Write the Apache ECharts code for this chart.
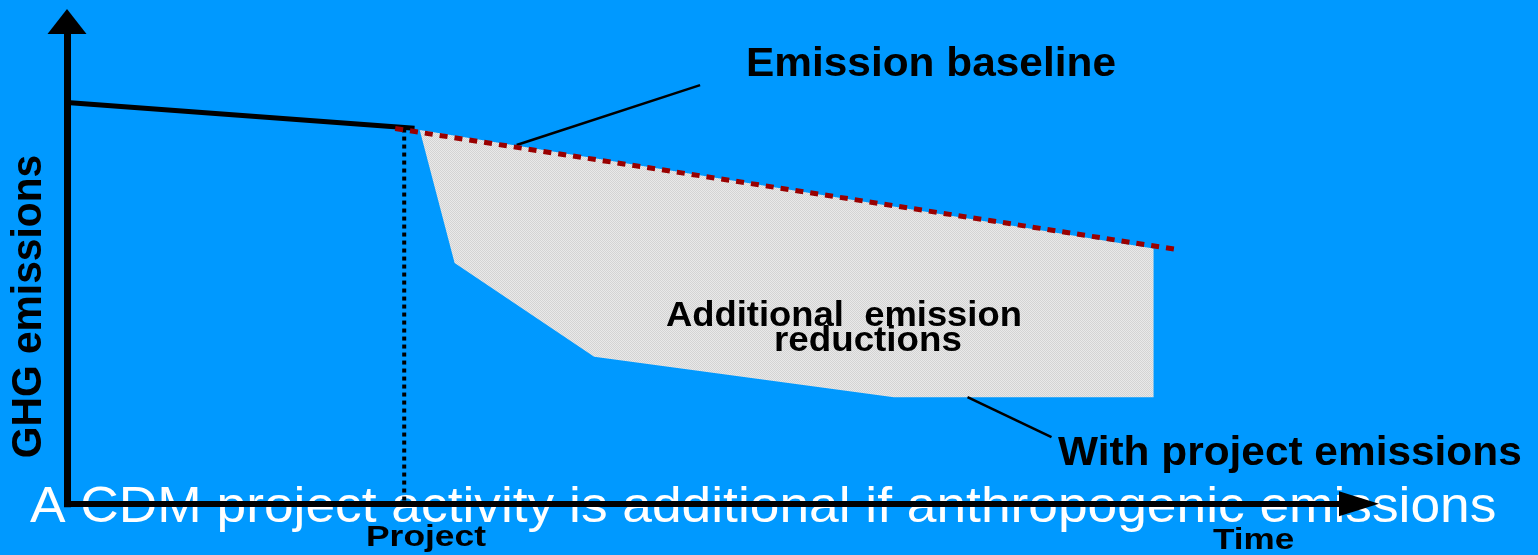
<!DOCTYPE html>
<html>
<head>
<meta charset="utf-8">
<script src="https://cdn.jsdelivr.net/npm/echarts@6/dist/echarts.min.js"></script>
<style>
html,body{margin:0;padding:0;background:#0099ff;}
#chart{width:1538px;height:555px;}
</style>
</head>
<body>
<div id="chart"></div>
<script>
// axis ranges (time / GHG emissions, arbitrary units)
var timeRange = [0, 100];
var emissionRange = [0, 100];

// emission baseline before project start (solid) and after (dashed)
var baselineBefore = [[0, 83.2], [26.9, 77.85]];
var baselineAfter = [[25.4, 77.8], [85.7, 52.8]];
// project start marker
var projectStart = [[26.1, 77.8], [26.1, 0]];
// area between baseline and with-project emissions
var reductionArea = [[27.3, 77.5], [30.0, 49.9], [40.8, 30.5], [64.0, 22.1], [84.1, 22.1], [84.1, 52.9]];
// pointer lines from the labels
var baselinePointer = [[49.0, 86.8], [34.8, 74.4]];
var projectPointer = [[69.7, 22.1], [76.2, 13.8]];

var labels = {
    baseline: 'Emission baseline',
    withProject: 'With project emissions',
    area1: 'Additional  emission',
    area2: 'reductions',
    yName: 'GHG emissions',
    project: 'Project',
    time: 'Time',
    caption: 'A CDM project activity is additional if anthropogenic emissions'
};

//灰色格子填充
var pat = document.createElement('canvas');
pat.width = 2; pat.height = 2;
var pctx = pat.getContext('2d');
pctx.fillStyle = '#e9e9e9'; pctx.fillRect(0, 0, 2, 2);
pctx.fillStyle = '#d3d3d3'; pctx.fillRect(0, 0, 1, 1); pctx.fillRect(1, 1, 1, 1);

var FONT = '"Liberation Sans", Arial, sans-serif';

var dom = document.getElementById('chart');
var myChart = echarts.init(dom, null, {renderer: 'canvas'});

function lineSeries(data, color, width, type, z) {
    return {
        type: 'line',
        data: data,
        symbol: 'none',
        silent: true,
        z: z,
        lineStyle: {color: color, width: width, type: type, cap: 'butt'}
    };
}

function txt(text, x, y, size, opt) {
    opt = opt || {};
    return {
        type: 'text',
        x: x, y: y,
        rotation: opt.rotation || 0,
        scaleX: opt.scaleX || 1,
        z: (opt.z !== undefined) ? opt.z : 100,
        style: {
            text: text,
            x: 0, y: 0,
            font: (opt.bold === false ? '' : 'bold ') + size + 'px ' + FONT,
            fill: opt.color || '#000',
            textAlign: opt.align || 'left',
            align: opt.align || 'left',
            textVerticalAlign: 'middle',
            verticalAlign: 'middle'
        }
    };
}

var option = {
    backgroundColor: '#0099ff',
    animation: false,
    grid: {left: 67, right: 179, top: 21.5, bottom: 51.3},
    xAxis: {
        type: 'value', min: timeRange[0], max: timeRange[1], z: 10,
        axisLine: {
            show: true, onZero: false,
            symbol: ['none', 'triangle'], symbolSize: [25, 40],
            lineStyle: {color: '#000', width: 6, cap: 'square'}
        },
        axisTick: {show: false}, axisLabel: {show: false}, splitLine: {show: false}
    },
    yAxis: {
        type: 'value', min: emissionRange[0], max: emissionRange[1], z: 10,
        axisLine: {
            show: true, onZero: false,
            symbol: ['none', 'triangle'], symbolSize: [39, 25],
            lineStyle: {color: '#000', width: 7, cap: 'square'}
        },
        axisTick: {show: false}, axisLabel: {show: false}, splitLine: {show: false}
    },
    graphic: [
        txt(labels.caption, 30, 508.5, 50, {bold: false, color: '#fff', scaleX: 1.066, z: -5}),
        txt(labels.baseline, 746, 65, 40, {scaleX: 1.06}),
        txt(labels.withProject, 1058, 454, 40, {scaleX: 1.06}),
        txt(labels.area1, 666, 316, 35, {scaleX: 1.04}),
        txt(labels.area2, 774, 341, 35, {scaleX: 1.05}),
        txt(labels.yName, 29, 306.5, 42, {align: 'center', rotation: Math.PI / 2, scaleX: 0.97}),
        txt(labels.project, 366, 537.5, 30, {scaleX: 1.18}),
        txt(labels.time, 1213, 540.5, 30, {scaleX: 1.17})
    ],
    series: [
        {
            type: 'custom',
            silent: true,
            z: 1,
            data: reductionArea,
            renderItem: function (params, api) {
                if (params.dataIndex !== 0) return;
                var pts = reductionArea.map(function (p) { return api.coord(p); });
                return {
                    type: 'polygon',
                    shape: {points: pts},
                    style: {fill: {image: pat, repeat: 'repeat'}}
                };
            }
        },
        lineSeries(baselineBefore, '#000', 5, 'solid', 3),
        lineSeries(projectStart, '#000', 4, [4, 4], 3),
        lineSeries(baselineAfter, '#990000', 5, [8, 7], 4),
        lineSeries(baselinePointer, '#000', 2.5, 'solid', 3),
        lineSeries(projectPointer, '#000', 2.5, 'solid', 3)
    ]
};

if (option && typeof option === 'object') {
    myChart.setOption(option);
}
</script>
</body>
</html>
